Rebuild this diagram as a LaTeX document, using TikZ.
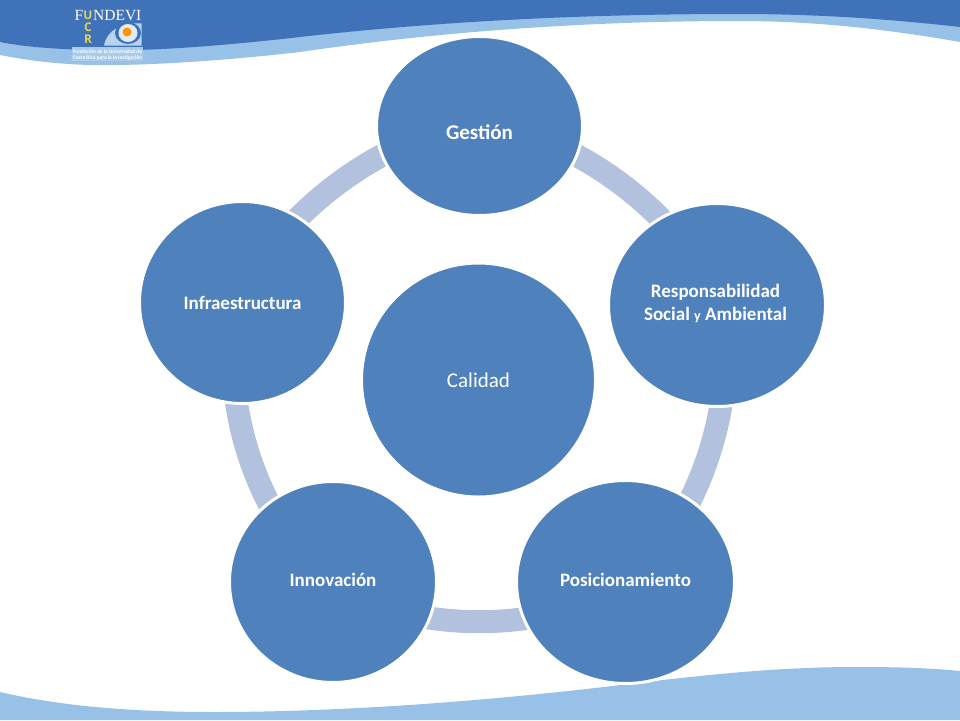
\documentclass[tikz,border=0pt]{standalone}
\usepackage{fontspec}
\setmainfont{Carlito}
\newfontfamily\logofont{Liberation Serif}
\newfontfamily\logobold{Open Sans}
\usetikzlibrary{shapes.geometric,backgrounds}
\definecolor{nodeblue}{HTML}{4F81BD}
\definecolor{ringblue}{HTML}{B2C1DD}
\definecolor{darkband}{HTML}{3F72B8}
\definecolor{lightband}{HTML}{98C1E7}
\definecolor{logoyellow}{HTML}{DDD65A}
\tikzset{
  circ/.style={ellipse,fill=nodeblue,draw=white,line width=3pt,inner sep=0pt,outer sep=0pt,text=white},
  lbl/.style={text=white,font=\bfseries\fontsize{19}{23}\selectfont,align=center,inner sep=0pt},
  link/.style={draw=ringblue,line width=23pt,line cap=butt},
  logoletter/.style={text=white,font=\logofont\fontsize{15.5}{15.5}\selectfont,inner sep=0pt,anchor=west},
  ucrletter/.style={text=logoyellow,font=\logobold\bfseries\fontsize{12}{12}\selectfont,inner sep=0pt},
  captiontext/.style={text=white,font=\bfseries\fontsize{5.6}{6}\selectfont,inner sep=0pt}
}
\begin{document}
\begin{tikzpicture}[x=1pt,y=-1pt]
\useasboundingbox (0,0) rectangle (960,720);
% diagram nodes
\node[circ,minimum width=206pt,minimum height=179pt,label={[lbl,font=\bfseries\fontsize{21}{23}\selectfont,yshift=-6pt]center:Gesti\'on}] (gestion) at (479.5,126) {};
\node[circ,minimum width=217pt,minimum height=203pt,label={[lbl,yshift=2pt,xshift=-1.5pt]center:Responsabilidad\\Social {\fontsize{14}{14}\selectfont y} Ambiental}] (resp) at (717,305) {};
\node[circ,minimum width=218pt,minimum height=203pt,label={[lbl,yshift=2pt]center:Posicionamiento}] (pos) at (625.5,582) {};
\node[circ,minimum width=207pt,minimum height=201pt,label={[lbl,yshift=2pt]center:Innovaci\'on}] (inno) at (333,582) {};
\node[circ,minimum width=206pt,minimum height=202pt,label={[lbl]center:Infraestructura}] (infra) at (242.5,302.5) {};
\node[circ,minimum width=234pt,minimum height=234pt,font=\fontsize{21}{24}\selectfont] (calidad) at (478.5,380) {Calidad};
\begin{pgfonlayer}{background}
% bands
\fill[lightband] (0,0) -- (960,0) -- (960,42) .. controls (880,28) and (810,21) .. (738,21)
  .. controls (600,21) and (450,30) .. (300,52) .. controls (230,60) and (150,66) .. (90,65)
  .. controls (55,64) and (25,60) .. (0,55) -- cycle;
\fill[darkband] (0,0) -- (960,0) -- (960,27) .. controls (880,18) and (810,14) .. (738,14)
  .. controls (600,14) and (450,20) .. (300,37) .. controls (230,45) and (150,52) .. (90,50)
  .. controls (55,49) and (25,47) .. (0,42) -- cycle;
\fill[lightband] (0,692) .. controls (60,706) and (130,712) .. (214,712)
  .. controls (350,712) and (500,700) .. (637,683) .. controls (730,672) and (790,667) .. (857,667)
  .. controls (900,667) and (930,668) .. (960,671) -- (960,720) -- (0,720) -- cycle;
% ring links
\draw[link] (gestion.center) to[bend left=36,looseness=0.76] (resp.center);
\draw[link] (resp.center) to[bend left=36,looseness=0.78] (pos.center);
\draw[link] (pos.center) to[bend left=36,looseness=0.79] (inno.center);
\draw[link] (inno.center) to[bend left=36,looseness=0.81] (infra.center);
\draw[link] (infra.center) to[bend left=36,looseness=0.755] (gestion.center);
\end{pgfonlayer}
% logo
\fill[lightband!85!white] (72,46.5) rectangle (143,61);
\fill[darkband] (93,22) rectangle (142,46);
\fill[lightband!70!white] (104,45.5) .. controls (107,30) and (122,22) .. (141.5,23.5) -- (141.5,45.5) -- cycle;
\fill[darkband] (128,33) ellipse (13 and 11);
\fill[white!70!lightband] (128,33) ellipse (9.5 and 9);
\fill[orange!85!yellow] (127,32) circle (4.5);
\node[logoletter] (logof) at (74.5,15.5) {F};
\node[logoletter] (logoname) at (93,15.5) {NDEVI};
\node[ucrletter] (logou) at (88,15.5) {U};
\node[ucrletter] (logoc) at (88,27.5) {C};
\node[ucrletter] (logor) at (88,39.5) {R};
\node[captiontext] (cap1) at (107.5,52) {\resizebox{69pt}{!}{Fundaci\'on de la Universidad de}};
\node[captiontext] (cap2) at (107.5,58) {\resizebox{69pt}{!}{Costa Rica para la Investigaci\'on}};
\end{tikzpicture}
\end{document}
